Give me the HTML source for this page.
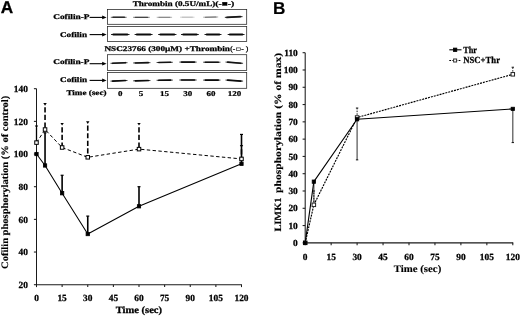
<!DOCTYPE html>
<html><head><meta charset="utf-8"><title>Figure</title>
<style>
html,body{margin:0;padding:0;background:#fff;}
body{width:520px;height:316px;overflow:hidden;font-family:"Liberation Serif",serif;}
svg{display:block;filter:blur(0.55px);}
text{text-rendering:geometricPrecision;}
</style></head><body>
<svg width="520" height="316" viewBox="0 0 520 316">
<rect x="-5" y="-5" width="530" height="326" fill="#fff"/>
<text x="0.7" y="13.2" font-size="17.2" font-family="Liberation Sans, sans-serif" font-weight="bold" stroke="#000" stroke-width="0.3">A</text>
<text x="272.9" y="13.7" font-size="17.2" font-family="Liberation Sans, sans-serif" font-weight="bold" stroke="#000" stroke-width="0.15">B</text>
<text x="132.70" y="5.90" font-size="7.2" textLength="82.60" lengthAdjust="spacingAndGlyphs" font-family="Liberation Serif, serif" font-weight="bold" stroke="#000" stroke-width="0.25">Thrombin (0.5U/mL)</text>
<text x="215.30" y="5.90" font-size="7.2" textLength="19.00" lengthAdjust="spacingAndGlyphs" font-family="Liberation Serif, serif" font-weight="bold" stroke="#000" stroke-width="0.25">(-■-)</text>
<text x="104.40" y="50.50" font-size="7.2" textLength="125.60" lengthAdjust="spacingAndGlyphs" font-family="Liberation Serif, serif" font-weight="bold" stroke="#000" stroke-width="0.25">NSC23766 (300µM) +Thrombin</text>
<text x="230.30" y="50.50" font-size="7.2" textLength="5.00" lengthAdjust="spacingAndGlyphs" font-family="Liberation Serif, serif" font-weight="normal" stroke="#000" stroke-width="0.3">(-</text>
<rect x="236.4" y="47.9" width="3.9" height="2.7" fill="none" stroke="#111" stroke-width="0.6"/>
<text x="241.30" y="50.50" font-size="7.2" textLength="6.90" lengthAdjust="spacingAndGlyphs" font-family="Liberation Serif, serif" font-weight="normal" stroke="#000" stroke-width="0.3">- )</text>
<rect x="107.6" y="9.5" width="139.10" height="14.80" fill="#fff" stroke="#222" stroke-width="0.75"/>
<path d="M113.00,17.30 Q118.70,17.30 124.40,17.30" fill="none" stroke="rgb(45,45,45)" stroke-width="1.5" stroke-linecap="round"/>
<path d="M111.20,17.30 L126.20,17.30" fill="none" stroke="rgb(45,45,45)" stroke-width="0.75" stroke-linecap="round"/>
<path d="M135.30,17.30 Q141.40,17.30 147.50,17.30" fill="none" stroke="rgb(71,71,71)" stroke-width="1.35" stroke-linecap="round"/>
<path d="M133.50,17.30 L149.30,17.30" fill="none" stroke="rgb(71,71,71)" stroke-width="0.68" stroke-linecap="round"/>
<path d="M158.90,17.30 Q164.40,17.30 169.90,17.30" fill="none" stroke="rgb(127,127,127)" stroke-width="1.0" stroke-linecap="round"/>
<path d="M157.10,17.30 L171.70,17.30" fill="none" stroke="rgb(127,127,127)" stroke-width="0.60" stroke-linecap="round"/>
<path d="M182.25,17.20 Q187.30,17.20 192.35,17.20" fill="none" stroke="rgb(178,178,178)" stroke-width="0.8" stroke-linecap="round"/>
<path d="M180.45,17.20 L194.15,17.20" fill="none" stroke="rgb(178,178,178)" stroke-width="0.60" stroke-linecap="round"/>
<path d="M205.40,17.20 Q210.70,17.10 216.00,17.00" fill="none" stroke="rgb(107,107,107)" stroke-width="1.1" stroke-linecap="round"/>
<path d="M203.60,17.20 L217.80,17.00" fill="none" stroke="rgb(107,107,107)" stroke-width="0.60" stroke-linecap="round"/>
<path d="M227.05,17.35 Q233.70,17.00 240.35,16.65" fill="none" stroke="rgb(25,25,25)" stroke-width="1.9" stroke-linecap="round"/>
<path d="M225.25,17.35 L242.15,16.65" fill="none" stroke="rgb(25,25,25)" stroke-width="0.95" stroke-linecap="round"/>
<text x="53.20" y="19.30" font-size="7.2" textLength="36.30" lengthAdjust="spacingAndGlyphs" font-family="Liberation Serif, serif" font-weight="bold" stroke="#000" stroke-width="0.25">Cofilin-P</text>
<line x1="89.60" y1="17.40" x2="103.50" y2="17.40" stroke="#000" stroke-width="1.1" stroke-linecap="butt"/>
<polygon points="106.6,17.4 102.2,15.499999999999998 102.2,19.299999999999997" fill="#000"/>
<rect x="107.6" y="26.5" width="139.10" height="15.10" fill="#fff" stroke="#222" stroke-width="0.75"/>
<path d="M113.25,34.50 Q120.30,34.50 127.35,34.50" fill="none" stroke="rgb(12,12,12)" stroke-width="1.85" stroke-linecap="round"/>
<path d="M111.45,34.50 L129.15,34.50" fill="none" stroke="rgb(12,12,12)" stroke-width="0.93" stroke-linecap="round"/>
<path d="M136.80,34.50 Q143.60,34.50 150.40,34.50" fill="none" stroke="rgb(12,12,12)" stroke-width="1.85" stroke-linecap="round"/>
<path d="M135.00,34.50 L152.20,34.50" fill="none" stroke="rgb(12,12,12)" stroke-width="0.93" stroke-linecap="round"/>
<path d="M160.35,34.50 Q167.30,34.50 174.25,34.50" fill="none" stroke="rgb(12,12,12)" stroke-width="1.85" stroke-linecap="round"/>
<path d="M158.55,34.50 L176.05,34.50" fill="none" stroke="rgb(12,12,12)" stroke-width="0.93" stroke-linecap="round"/>
<path d="M183.20,34.50 Q189.90,34.50 196.60,34.50" fill="none" stroke="rgb(12,12,12)" stroke-width="1.85" stroke-linecap="round"/>
<path d="M181.40,34.50 L198.40,34.50" fill="none" stroke="rgb(12,12,12)" stroke-width="0.93" stroke-linecap="round"/>
<path d="M206.70,34.50 Q213.00,34.50 219.30,34.50" fill="none" stroke="rgb(12,12,12)" stroke-width="1.85" stroke-linecap="round"/>
<path d="M204.90,34.50 L221.10,34.50" fill="none" stroke="rgb(12,12,12)" stroke-width="0.93" stroke-linecap="round"/>
<path d="M229.85,34.50 Q236.10,34.50 242.35,34.50" fill="none" stroke="rgb(12,12,12)" stroke-width="1.85" stroke-linecap="round"/>
<path d="M228.05,34.50 L244.15,34.50" fill="none" stroke="rgb(12,12,12)" stroke-width="0.93" stroke-linecap="round"/>
<text x="60.00" y="36.80" font-size="7.2" textLength="27.00" lengthAdjust="spacingAndGlyphs" font-family="Liberation Serif, serif" font-weight="bold" stroke="#000" stroke-width="0.25">Cofilin</text>
<line x1="89.60" y1="34.60" x2="103.50" y2="34.60" stroke="#000" stroke-width="1.1" stroke-linecap="butt"/>
<polygon points="106.6,34.6 102.2,32.7 102.2,36.5" fill="#000"/>
<rect x="107.6" y="54.7" width="139.10" height="15.70" fill="#fff" stroke="#222" stroke-width="0.75"/>
<path d="M112.70,63.30 Q119.00,63.00 125.30,62.70" fill="none" stroke="rgb(20,20,20)" stroke-width="1.65" stroke-linecap="round"/>
<path d="M110.90,63.30 L127.10,62.70" fill="none" stroke="rgb(20,20,20)" stroke-width="0.82" stroke-linecap="round"/>
<path d="M135.35,62.95 Q141.80,62.80 148.25,62.65" fill="none" stroke="rgb(20,20,20)" stroke-width="1.65" stroke-linecap="round"/>
<path d="M133.55,62.95 L150.05,62.65" fill="none" stroke="rgb(20,20,20)" stroke-width="0.82" stroke-linecap="round"/>
<path d="M158.80,62.50 Q164.70,62.40 170.60,62.30" fill="none" stroke="rgb(20,20,20)" stroke-width="1.65" stroke-linecap="round"/>
<path d="M157.00,62.50 L172.40,62.30" fill="none" stroke="rgb(20,20,20)" stroke-width="0.82" stroke-linecap="round"/>
<path d="M181.55,62.10 Q188.00,62.10 194.45,62.10" fill="none" stroke="rgb(20,20,20)" stroke-width="1.65" stroke-linecap="round"/>
<path d="M179.75,62.10 L196.25,62.10" fill="none" stroke="rgb(20,20,20)" stroke-width="0.82" stroke-linecap="round"/>
<path d="M205.35,62.20 Q211.80,62.20 218.25,62.20" fill="none" stroke="rgb(20,20,20)" stroke-width="1.65" stroke-linecap="round"/>
<path d="M203.55,62.20 L220.05,62.20" fill="none" stroke="rgb(20,20,20)" stroke-width="0.82" stroke-linecap="round"/>
<path d="M227.70,62.10 Q234.30,62.70 240.90,63.30" fill="none" stroke="rgb(20,20,20)" stroke-width="1.65" stroke-linecap="round"/>
<path d="M225.90,62.10 L242.70,63.30" fill="none" stroke="rgb(20,20,20)" stroke-width="0.82" stroke-linecap="round"/>
<text x="53.20" y="64.10" font-size="7.2" textLength="36.20" lengthAdjust="spacingAndGlyphs" font-family="Liberation Serif, serif" font-weight="bold" stroke="#000" stroke-width="0.25">Cofilin-P</text>
<line x1="89.60" y1="63.70" x2="103.50" y2="63.70" stroke="#000" stroke-width="1.1" stroke-linecap="butt"/>
<polygon points="106.6,63.7 102.2,61.800000000000004 102.2,65.60000000000001" fill="#000"/>
<rect x="107.6" y="72.6" width="139.10" height="15.70" fill="#fff" stroke="#222" stroke-width="0.75"/>
<path d="M112.70,81.10 Q119.00,80.80 125.30,80.50" fill="none" stroke="rgb(12,12,12)" stroke-width="1.65" stroke-linecap="round"/>
<path d="M110.90,81.10 L127.10,80.50" fill="none" stroke="rgb(12,12,12)" stroke-width="0.82" stroke-linecap="round"/>
<path d="M135.35,80.85 Q141.80,80.70 148.25,80.55" fill="none" stroke="rgb(12,12,12)" stroke-width="1.65" stroke-linecap="round"/>
<path d="M133.55,80.85 L150.05,80.55" fill="none" stroke="rgb(12,12,12)" stroke-width="0.82" stroke-linecap="round"/>
<path d="M158.80,80.30 Q164.70,80.20 170.60,80.10" fill="none" stroke="rgb(12,12,12)" stroke-width="1.65" stroke-linecap="round"/>
<path d="M157.00,80.30 L172.40,80.10" fill="none" stroke="rgb(12,12,12)" stroke-width="0.82" stroke-linecap="round"/>
<path d="M181.55,80.00 Q188.00,80.00 194.45,80.00" fill="none" stroke="rgb(12,12,12)" stroke-width="1.65" stroke-linecap="round"/>
<path d="M179.75,80.00 L196.25,80.00" fill="none" stroke="rgb(12,12,12)" stroke-width="0.82" stroke-linecap="round"/>
<path d="M205.35,80.10 Q211.80,80.10 218.25,80.10" fill="none" stroke="rgb(12,12,12)" stroke-width="1.65" stroke-linecap="round"/>
<path d="M203.55,80.10 L220.05,80.10" fill="none" stroke="rgb(12,12,12)" stroke-width="0.82" stroke-linecap="round"/>
<path d="M227.70,80.10 Q234.30,80.60 240.90,81.10" fill="none" stroke="rgb(12,12,12)" stroke-width="1.65" stroke-linecap="round"/>
<path d="M225.90,80.10 L242.70,81.10" fill="none" stroke="rgb(12,12,12)" stroke-width="0.82" stroke-linecap="round"/>
<text x="60.00" y="81.70" font-size="7.2" textLength="27.10" lengthAdjust="spacingAndGlyphs" font-family="Liberation Serif, serif" font-weight="bold" stroke="#000" stroke-width="0.25">Cofilin</text>
<line x1="89.60" y1="80.40" x2="103.50" y2="80.40" stroke="#000" stroke-width="1.1" stroke-linecap="butt"/>
<polygon points="106.6,80.4 102.2,78.5 102.2,82.30000000000001" fill="#000"/>
<text x="66.40" y="95.10" font-size="7.2" textLength="40.10" lengthAdjust="spacingAndGlyphs" font-family="Liberation Serif, serif" font-weight="bold" stroke="#000" stroke-width="0.25">Time (sec)</text>
<text transform="translate(120.20,96.40) scale(1.22,1)" font-size="7.4" text-anchor="middle" font-family="Liberation Serif, serif" font-weight="bold" stroke="#000" stroke-width="0.22">0</text>
<text transform="translate(141.00,96.40) scale(1.22,1)" font-size="7.4" text-anchor="middle" font-family="Liberation Serif, serif" font-weight="bold" stroke="#000" stroke-width="0.22">5</text>
<text transform="translate(164.60,96.40) scale(1.22,1)" font-size="7.4" text-anchor="middle" font-family="Liberation Serif, serif" font-weight="bold" stroke="#000" stroke-width="0.22">15</text>
<text transform="translate(187.70,96.40) scale(1.22,1)" font-size="7.4" text-anchor="middle" font-family="Liberation Serif, serif" font-weight="bold" stroke="#000" stroke-width="0.22">30</text>
<text transform="translate(210.90,96.40) scale(1.22,1)" font-size="7.4" text-anchor="middle" font-family="Liberation Serif, serif" font-weight="bold" stroke="#000" stroke-width="0.22">60</text>
<text transform="translate(234.40,96.40) scale(1.22,1)" font-size="7.4" text-anchor="middle" font-family="Liberation Serif, serif" font-weight="bold" stroke="#000" stroke-width="0.22">120</text>
<line x1="36.50" y1="88.70" x2="36.50" y2="285.10" stroke="#1a1a1a" stroke-width="1.05" stroke-linecap="butt"/>
<line x1="36.10" y1="284.70" x2="241.90" y2="284.70" stroke="#1a1a1a" stroke-width="1.05" stroke-linecap="butt"/>
<line x1="33.90" y1="284.70" x2="36.50" y2="284.70" stroke="#1a1a1a" stroke-width="1.05" stroke-linecap="butt"/>
<text transform="translate(27.90,287.90) scale(1.0,1)" font-size="9.4" text-anchor="end" font-family="Liberation Serif, serif" font-weight="bold" stroke="#000" stroke-width="0.25">20</text>
<line x1="33.90" y1="252.03" x2="36.50" y2="252.03" stroke="#1a1a1a" stroke-width="1.05" stroke-linecap="butt"/>
<text transform="translate(27.90,255.23) scale(1.0,1)" font-size="9.4" text-anchor="end" font-family="Liberation Serif, serif" font-weight="bold" stroke="#000" stroke-width="0.25">40</text>
<line x1="33.90" y1="219.37" x2="36.50" y2="219.37" stroke="#1a1a1a" stroke-width="1.05" stroke-linecap="butt"/>
<text transform="translate(27.90,222.57) scale(1.0,1)" font-size="9.4" text-anchor="end" font-family="Liberation Serif, serif" font-weight="bold" stroke="#000" stroke-width="0.25">60</text>
<line x1="33.90" y1="186.70" x2="36.50" y2="186.70" stroke="#1a1a1a" stroke-width="1.05" stroke-linecap="butt"/>
<text transform="translate(27.90,189.90) scale(1.0,1)" font-size="9.4" text-anchor="end" font-family="Liberation Serif, serif" font-weight="bold" stroke="#000" stroke-width="0.25">80</text>
<line x1="33.90" y1="154.03" x2="36.50" y2="154.03" stroke="#1a1a1a" stroke-width="1.05" stroke-linecap="butt"/>
<text transform="translate(27.90,157.23) scale(1.0,1)" font-size="9.4" text-anchor="end" font-family="Liberation Serif, serif" font-weight="bold" stroke="#000" stroke-width="0.25">100</text>
<line x1="33.90" y1="121.37" x2="36.50" y2="121.37" stroke="#1a1a1a" stroke-width="1.05" stroke-linecap="butt"/>
<text transform="translate(27.90,124.57) scale(1.0,1)" font-size="9.4" text-anchor="end" font-family="Liberation Serif, serif" font-weight="bold" stroke="#000" stroke-width="0.25">120</text>
<line x1="33.90" y1="88.70" x2="36.50" y2="88.70" stroke="#1a1a1a" stroke-width="1.05" stroke-linecap="butt"/>
<text transform="translate(27.90,91.90) scale(1.0,1)" font-size="9.4" text-anchor="end" font-family="Liberation Serif, serif" font-weight="bold" stroke="#000" stroke-width="0.25">140</text>
<line x1="36.50" y1="284.70" x2="36.50" y2="287.10" stroke="#1a1a1a" stroke-width="1.05" stroke-linecap="butt"/>
<text transform="translate(36.50,301.20) scale(1.0,1)" font-size="9.4" text-anchor="middle" font-family="Liberation Serif, serif" font-weight="bold" stroke="#000" stroke-width="0.25">0</text>
<line x1="62.12" y1="284.70" x2="62.12" y2="287.10" stroke="#1a1a1a" stroke-width="1.05" stroke-linecap="butt"/>
<text transform="translate(62.12,301.20) scale(1.0,1)" font-size="9.4" text-anchor="middle" font-family="Liberation Serif, serif" font-weight="bold" stroke="#000" stroke-width="0.25">15</text>
<line x1="87.75" y1="284.70" x2="87.75" y2="287.10" stroke="#1a1a1a" stroke-width="1.05" stroke-linecap="butt"/>
<text transform="translate(87.75,301.20) scale(1.0,1)" font-size="9.4" text-anchor="middle" font-family="Liberation Serif, serif" font-weight="bold" stroke="#000" stroke-width="0.25">30</text>
<line x1="113.38" y1="284.70" x2="113.38" y2="287.10" stroke="#1a1a1a" stroke-width="1.05" stroke-linecap="butt"/>
<text transform="translate(113.38,301.20) scale(1.0,1)" font-size="9.4" text-anchor="middle" font-family="Liberation Serif, serif" font-weight="bold" stroke="#000" stroke-width="0.25">45</text>
<line x1="139.00" y1="284.70" x2="139.00" y2="287.10" stroke="#1a1a1a" stroke-width="1.05" stroke-linecap="butt"/>
<text transform="translate(139.00,301.20) scale(1.0,1)" font-size="9.4" text-anchor="middle" font-family="Liberation Serif, serif" font-weight="bold" stroke="#000" stroke-width="0.25">60</text>
<line x1="164.62" y1="284.70" x2="164.62" y2="287.10" stroke="#1a1a1a" stroke-width="1.05" stroke-linecap="butt"/>
<text transform="translate(164.62,301.20) scale(1.0,1)" font-size="9.4" text-anchor="middle" font-family="Liberation Serif, serif" font-weight="bold" stroke="#000" stroke-width="0.25">75</text>
<line x1="190.25" y1="284.70" x2="190.25" y2="287.10" stroke="#1a1a1a" stroke-width="1.05" stroke-linecap="butt"/>
<text transform="translate(190.25,301.20) scale(1.0,1)" font-size="9.4" text-anchor="middle" font-family="Liberation Serif, serif" font-weight="bold" stroke="#000" stroke-width="0.25">90</text>
<line x1="215.88" y1="284.70" x2="215.88" y2="287.10" stroke="#1a1a1a" stroke-width="1.05" stroke-linecap="butt"/>
<text transform="translate(215.88,301.20) scale(1.0,1)" font-size="9.4" text-anchor="middle" font-family="Liberation Serif, serif" font-weight="bold" stroke="#000" stroke-width="0.25">105</text>
<line x1="241.50" y1="284.70" x2="241.50" y2="287.10" stroke="#1a1a1a" stroke-width="1.05" stroke-linecap="butt"/>
<text transform="translate(241.50,301.20) scale(1.0,1)" font-size="9.4" text-anchor="middle" font-family="Liberation Serif, serif" font-weight="bold" stroke="#000" stroke-width="0.25">120</text>
<text transform="translate(138.90,313.00) scale(1.085,1)" font-size="9.7" text-anchor="middle" font-family="Liberation Serif, serif" font-weight="bold" stroke="#000" stroke-width="0.3">Time (sec)</text>
<text transform="translate(7.9,182.4) rotate(-90) scale(1.072,1)" font-size="9.8" text-anchor="middle" font-family="Liberation Serif, serif" font-weight="bold" stroke="#000" stroke-width="0.15">Cofilin phosphorylation (% of control)</text>
<line x1="45.04" y1="165.47" x2="45.04" y2="132.80" stroke="#000" stroke-width="1.6" stroke-linecap="butt"/>
<line x1="43.54" y1="132.80" x2="46.54" y2="132.80" stroke="#000" stroke-width="1.2" stroke-linecap="butt"/>
<line x1="62.12" y1="193.23" x2="62.12" y2="175.27" stroke="#000" stroke-width="1.6" stroke-linecap="butt"/>
<line x1="60.62" y1="175.27" x2="63.62" y2="175.27" stroke="#000" stroke-width="1.2" stroke-linecap="butt"/>
<line x1="87.75" y1="234.07" x2="87.75" y2="216.10" stroke="#000" stroke-width="1.6" stroke-linecap="butt"/>
<line x1="86.25" y1="216.10" x2="89.25" y2="216.10" stroke="#000" stroke-width="1.2" stroke-linecap="butt"/>
<line x1="139.00" y1="206.30" x2="139.00" y2="186.70" stroke="#000" stroke-width="1.6" stroke-linecap="butt"/>
<line x1="137.50" y1="186.70" x2="140.50" y2="186.70" stroke="#000" stroke-width="1.2" stroke-linecap="butt"/>
<line x1="241.50" y1="163.83" x2="241.50" y2="134.43" stroke="#000" stroke-width="1.6" stroke-linecap="butt"/>
<line x1="240.00" y1="134.43" x2="243.00" y2="134.43" stroke="#000" stroke-width="1.2" stroke-linecap="butt"/>
<line x1="36.50" y1="127.45" x2="36.50" y2="142.60" stroke="#000" stroke-width="1.3" stroke-linecap="butt"/>
<polygon points="34.80,125.45 38.20,125.45 36.50,128.05" fill="#000"/>
<line x1="45.04" y1="107.27" x2="45.04" y2="129.53" stroke="#000" stroke-width="1.6" stroke-dasharray="5.2,2.4" stroke-linecap="butt"/>
<polygon points="43.34,103.07 46.74,103.07 45.04,105.67" fill="#000"/>
<line x1="62.12" y1="127.20" x2="62.12" y2="147.50" stroke="#000" stroke-width="1.6" stroke-dasharray="5.2,2.4" stroke-linecap="butt"/>
<polygon points="60.42,123.00 63.83,123.00 62.12,125.60" fill="#000"/>
<line x1="87.75" y1="125.57" x2="87.75" y2="157.30" stroke="#000" stroke-width="1.6" stroke-dasharray="5.2,2.4" stroke-linecap="butt"/>
<polygon points="86.05,121.37 89.45,121.37 87.75,123.97" fill="#000"/>
<line x1="139.00" y1="127.20" x2="139.00" y2="149.13" stroke="#000" stroke-width="1.6" stroke-dasharray="5.2,2.4" stroke-linecap="butt"/>
<polygon points="137.30,123.00 140.70,123.00 139.00,125.60" fill="#000"/>
<line x1="241.50" y1="149.25" x2="241.50" y2="158.93" stroke="#000" stroke-width="1.6" stroke-dasharray="5.2,2.4" stroke-linecap="butt"/>
<polygon points="239.80,145.05 243.20,145.05 241.50,147.65" fill="#000"/>
<polyline points="36.50,154.03 45.04,165.47 62.12,193.23 87.75,234.07 139.00,206.30 241.50,163.83" fill="none" stroke="#000" stroke-width="1.05" stroke-linejoin="round"/>
<polyline points="36.50,142.60 45.04,129.53 62.12,147.50 87.75,157.30 139.00,149.13 241.50,158.93" fill="none" stroke="#000" stroke-width="1.0" stroke-dasharray="3.4,2.4" stroke-linejoin="round"/>
<rect x="34.85" y="152.38" width="3.3" height="3.3" fill="#000" stroke="#000" stroke-width="0.8"/>
<rect x="43.39" y="163.82" width="3.3" height="3.3" fill="#000" stroke="#000" stroke-width="0.8"/>
<rect x="60.48" y="191.58" width="3.3" height="3.3" fill="#000" stroke="#000" stroke-width="0.8"/>
<rect x="86.10" y="232.42" width="3.3" height="3.3" fill="#000" stroke="#000" stroke-width="0.8"/>
<rect x="137.35" y="204.65" width="3.3" height="3.3" fill="#000" stroke="#000" stroke-width="0.8"/>
<rect x="239.85" y="162.18" width="3.3" height="3.3" fill="#000" stroke="#000" stroke-width="0.8"/>
<rect x="34.75" y="140.85" width="3.5" height="3.5" fill="#fff" stroke="#000" stroke-width="1.0"/>
<rect x="43.29" y="127.78" width="3.5" height="3.5" fill="#fff" stroke="#000" stroke-width="1.0"/>
<rect x="60.38" y="145.75" width="3.5" height="3.5" fill="#fff" stroke="#000" stroke-width="1.0"/>
<rect x="86.00" y="155.55" width="3.5" height="3.5" fill="#fff" stroke="#000" stroke-width="1.0"/>
<rect x="137.25" y="147.38" width="3.5" height="3.5" fill="#fff" stroke="#000" stroke-width="1.0"/>
<rect x="239.75" y="157.18" width="3.5" height="3.5" fill="#fff" stroke="#000" stroke-width="1.0"/>
<line x1="305.20" y1="52.70" x2="305.20" y2="243.25" stroke="#1a1a1a" stroke-width="1.05" stroke-linecap="butt"/>
<line x1="304.80" y1="242.85" x2="513.20" y2="242.85" stroke="#1a1a1a" stroke-width="1.05" stroke-linecap="butt"/>
<line x1="302.60" y1="242.85" x2="305.20" y2="242.85" stroke="#1a1a1a" stroke-width="1.05" stroke-linecap="butt"/>
<text transform="translate(297.80,246.05) scale(1.0,1)" font-size="9.4" text-anchor="end" font-family="Liberation Serif, serif" font-weight="bold" stroke="#000" stroke-width="0.25">0</text>
<line x1="302.60" y1="225.56" x2="305.20" y2="225.56" stroke="#1a1a1a" stroke-width="1.05" stroke-linecap="butt"/>
<text transform="translate(297.80,228.76) scale(1.0,1)" font-size="9.4" text-anchor="end" font-family="Liberation Serif, serif" font-weight="bold" stroke="#000" stroke-width="0.25">10</text>
<line x1="302.60" y1="208.28" x2="305.20" y2="208.28" stroke="#1a1a1a" stroke-width="1.05" stroke-linecap="butt"/>
<text transform="translate(297.80,211.48) scale(1.0,1)" font-size="9.4" text-anchor="end" font-family="Liberation Serif, serif" font-weight="bold" stroke="#000" stroke-width="0.25">20</text>
<line x1="302.60" y1="190.99" x2="305.20" y2="190.99" stroke="#1a1a1a" stroke-width="1.05" stroke-linecap="butt"/>
<text transform="translate(297.80,194.19) scale(1.0,1)" font-size="9.4" text-anchor="end" font-family="Liberation Serif, serif" font-weight="bold" stroke="#000" stroke-width="0.25">30</text>
<line x1="302.60" y1="173.70" x2="305.20" y2="173.70" stroke="#1a1a1a" stroke-width="1.05" stroke-linecap="butt"/>
<text transform="translate(297.80,176.90) scale(1.0,1)" font-size="9.4" text-anchor="end" font-family="Liberation Serif, serif" font-weight="bold" stroke="#000" stroke-width="0.25">40</text>
<line x1="302.60" y1="156.42" x2="305.20" y2="156.42" stroke="#1a1a1a" stroke-width="1.05" stroke-linecap="butt"/>
<text transform="translate(297.80,159.62) scale(1.0,1)" font-size="9.4" text-anchor="end" font-family="Liberation Serif, serif" font-weight="bold" stroke="#000" stroke-width="0.25">50</text>
<line x1="302.60" y1="139.13" x2="305.20" y2="139.13" stroke="#1a1a1a" stroke-width="1.05" stroke-linecap="butt"/>
<text transform="translate(297.80,142.33) scale(1.0,1)" font-size="9.4" text-anchor="end" font-family="Liberation Serif, serif" font-weight="bold" stroke="#000" stroke-width="0.25">60</text>
<line x1="302.60" y1="121.85" x2="305.20" y2="121.85" stroke="#1a1a1a" stroke-width="1.05" stroke-linecap="butt"/>
<text transform="translate(297.80,125.05) scale(1.0,1)" font-size="9.4" text-anchor="end" font-family="Liberation Serif, serif" font-weight="bold" stroke="#000" stroke-width="0.25">70</text>
<line x1="302.60" y1="104.56" x2="305.20" y2="104.56" stroke="#1a1a1a" stroke-width="1.05" stroke-linecap="butt"/>
<text transform="translate(297.80,107.76) scale(1.0,1)" font-size="9.4" text-anchor="end" font-family="Liberation Serif, serif" font-weight="bold" stroke="#000" stroke-width="0.25">80</text>
<line x1="302.60" y1="87.27" x2="305.20" y2="87.27" stroke="#1a1a1a" stroke-width="1.05" stroke-linecap="butt"/>
<text transform="translate(297.80,90.47) scale(1.0,1)" font-size="9.4" text-anchor="end" font-family="Liberation Serif, serif" font-weight="bold" stroke="#000" stroke-width="0.25">90</text>
<line x1="302.60" y1="69.99" x2="305.20" y2="69.99" stroke="#1a1a1a" stroke-width="1.05" stroke-linecap="butt"/>
<text transform="translate(297.80,73.19) scale(1.0,1)" font-size="9.4" text-anchor="end" font-family="Liberation Serif, serif" font-weight="bold" stroke="#000" stroke-width="0.25">100</text>
<line x1="302.60" y1="52.70" x2="305.20" y2="52.70" stroke="#1a1a1a" stroke-width="1.05" stroke-linecap="butt"/>
<text transform="translate(297.80,55.90) scale(1.0,1)" font-size="9.4" text-anchor="end" font-family="Liberation Serif, serif" font-weight="bold" stroke="#000" stroke-width="0.25">110</text>
<line x1="305.20" y1="242.85" x2="305.20" y2="245.25" stroke="#1a1a1a" stroke-width="1.05" stroke-linecap="butt"/>
<text transform="translate(305.20,259.70) scale(1.0,1)" font-size="9.4" text-anchor="middle" font-family="Liberation Serif, serif" font-weight="bold" stroke="#000" stroke-width="0.25">0</text>
<line x1="331.15" y1="242.85" x2="331.15" y2="245.25" stroke="#1a1a1a" stroke-width="1.05" stroke-linecap="butt"/>
<text transform="translate(331.15,259.70) scale(1.0,1)" font-size="9.4" text-anchor="middle" font-family="Liberation Serif, serif" font-weight="bold" stroke="#000" stroke-width="0.25">15</text>
<line x1="357.10" y1="242.85" x2="357.10" y2="245.25" stroke="#1a1a1a" stroke-width="1.05" stroke-linecap="butt"/>
<text transform="translate(357.10,259.70) scale(1.0,1)" font-size="9.4" text-anchor="middle" font-family="Liberation Serif, serif" font-weight="bold" stroke="#000" stroke-width="0.25">30</text>
<line x1="383.05" y1="242.85" x2="383.05" y2="245.25" stroke="#1a1a1a" stroke-width="1.05" stroke-linecap="butt"/>
<text transform="translate(383.05,259.70) scale(1.0,1)" font-size="9.4" text-anchor="middle" font-family="Liberation Serif, serif" font-weight="bold" stroke="#000" stroke-width="0.25">45</text>
<line x1="409.00" y1="242.85" x2="409.00" y2="245.25" stroke="#1a1a1a" stroke-width="1.05" stroke-linecap="butt"/>
<text transform="translate(409.00,259.70) scale(1.0,1)" font-size="9.4" text-anchor="middle" font-family="Liberation Serif, serif" font-weight="bold" stroke="#000" stroke-width="0.25">60</text>
<line x1="434.95" y1="242.85" x2="434.95" y2="245.25" stroke="#1a1a1a" stroke-width="1.05" stroke-linecap="butt"/>
<text transform="translate(434.95,259.70) scale(1.0,1)" font-size="9.4" text-anchor="middle" font-family="Liberation Serif, serif" font-weight="bold" stroke="#000" stroke-width="0.25">75</text>
<line x1="460.90" y1="242.85" x2="460.90" y2="245.25" stroke="#1a1a1a" stroke-width="1.05" stroke-linecap="butt"/>
<text transform="translate(460.90,259.70) scale(1.0,1)" font-size="9.4" text-anchor="middle" font-family="Liberation Serif, serif" font-weight="bold" stroke="#000" stroke-width="0.25">90</text>
<line x1="486.85" y1="242.85" x2="486.85" y2="245.25" stroke="#1a1a1a" stroke-width="1.05" stroke-linecap="butt"/>
<text transform="translate(486.85,259.70) scale(1.0,1)" font-size="9.4" text-anchor="middle" font-family="Liberation Serif, serif" font-weight="bold" stroke="#000" stroke-width="0.25">105</text>
<line x1="512.80" y1="242.85" x2="512.80" y2="245.25" stroke="#1a1a1a" stroke-width="1.05" stroke-linecap="butt"/>
<text transform="translate(512.80,259.70) scale(1.0,1)" font-size="9.4" text-anchor="middle" font-family="Liberation Serif, serif" font-weight="bold" stroke="#000" stroke-width="0.25">120</text>
<text transform="translate(417.50,271.80) scale(1.08,1)" font-size="10" text-anchor="middle" font-family="Liberation Serif, serif" font-weight="bold" stroke="#000" stroke-width="0.15">Time (sec)</text>
<text transform="translate(280.6,231.6) rotate(-90)" font-size="9.6" textLength="34.00" lengthAdjust="spacingAndGlyphs" font-family="Liberation Serif, serif" font-weight="bold" stroke="#000" stroke-width="0.15">LIMK1</text>
<text transform="translate(280.6,193.0) rotate(-90)" font-size="9.6" textLength="140.20" lengthAdjust="spacingAndGlyphs" font-family="Liberation Serif, serif" font-weight="bold" stroke="#000" stroke-width="0.15">phosphorylation (% of max)</text>
<line x1="313.85" y1="181.66" x2="313.85" y2="204.82" stroke="#999" stroke-width="1.8" stroke-linecap="butt"/>
<line x1="357.10" y1="119.25" x2="357.10" y2="159.88" stroke="#505050" stroke-width="1.2" stroke-linecap="butt"/>
<line x1="355.90" y1="159.88" x2="358.30" y2="159.88" stroke="#000" stroke-width="0.9" stroke-linecap="butt"/>
<line x1="512.80" y1="108.88" x2="512.80" y2="142.59" stroke="#505050" stroke-width="1.2" stroke-linecap="butt"/>
<line x1="511.60" y1="142.59" x2="514.00" y2="142.59" stroke="#000" stroke-width="0.9" stroke-linecap="butt"/>
<line x1="313.85" y1="204.82" x2="313.85" y2="190.99" stroke="#000" stroke-width="0.9" stroke-dasharray="1.5,1.2" stroke-linecap="butt"/>
<line x1="312.65" y1="190.99" x2="315.05" y2="190.99" stroke="#000" stroke-width="0.9" stroke-linecap="butt"/>
<line x1="357.10" y1="117.52" x2="357.10" y2="108.02" stroke="#000" stroke-width="0.9" stroke-dasharray="1.5,1.2" stroke-linecap="butt"/>
<line x1="355.90" y1="108.02" x2="358.30" y2="108.02" stroke="#000" stroke-width="0.9" stroke-linecap="butt"/>
<line x1="512.80" y1="74.31" x2="512.80" y2="67.22" stroke="#000" stroke-width="0.9" stroke-dasharray="1.5,1.2" stroke-linecap="butt"/>
<line x1="511.60" y1="67.22" x2="514.00" y2="67.22" stroke="#000" stroke-width="0.9" stroke-linecap="butt"/>
<polyline points="305.20,242.85 313.85,181.66 357.10,119.25 512.80,108.88" fill="none" stroke="#000" stroke-width="1.1" stroke-linejoin="round"/>
<polyline points="305.20,242.85 313.85,204.82 357.10,117.52 512.80,74.31" fill="none" stroke="#000" stroke-width="1.15" stroke-dasharray="2.0,1.0" stroke-linejoin="round"/>
<rect x="303.45" y="241.10" width="3.5" height="3.5" fill="#fff" stroke="#222" stroke-width="1.0"/>
<rect x="312.10" y="203.07" width="3.5" height="3.5" fill="#fff" stroke="#222" stroke-width="1.0"/>
<rect x="355.35" y="115.77" width="3.5" height="3.5" fill="#fff" stroke="#222" stroke-width="1.0"/>
<rect x="511.05" y="72.56" width="3.5" height="3.5" fill="#fff" stroke="#222" stroke-width="1.0"/>
<rect x="303.55" y="241.20" width="3.3" height="3.3" fill="#000" stroke="#000" stroke-width="0.8"/>
<rect x="312.20" y="180.01" width="3.3" height="3.3" fill="#000" stroke="#000" stroke-width="0.8"/>
<rect x="355.45" y="117.60" width="3.3" height="3.3" fill="#000" stroke="#000" stroke-width="0.8"/>
<rect x="511.15" y="107.23" width="3.3" height="3.3" fill="#000" stroke="#000" stroke-width="0.8"/>
<line x1="449.30" y1="49.80" x2="461.50" y2="49.80" stroke="#000" stroke-width="1.1" stroke-linecap="butt"/>
<rect x="453.40" y="48.10" width="3.4" height="3.4" fill="#000" stroke="#000" stroke-width="0.8"/>
<text x="463.30" y="52.80" font-size="9.3" textLength="13.70" lengthAdjust="spacingAndGlyphs" font-family="Liberation Serif, serif" font-weight="bold" stroke="#000" stroke-width="0.25">Thr</text>
<line x1="449.30" y1="60.50" x2="461.50" y2="60.50" stroke="#000" stroke-width="1.0" stroke-dasharray="1.8,1.3" stroke-linecap="butt"/>
<rect x="453.60" y="59.00" width="3.0" height="3.0" fill="#fff" stroke="#333" stroke-width="1.0"/>
<text x="463.30" y="63.10" font-size="9.3" textLength="36.70" lengthAdjust="spacingAndGlyphs" font-family="Liberation Serif, serif" font-weight="bold" stroke="#000" stroke-width="0.25">NSC+Thr</text>
</svg>
</body></html>
